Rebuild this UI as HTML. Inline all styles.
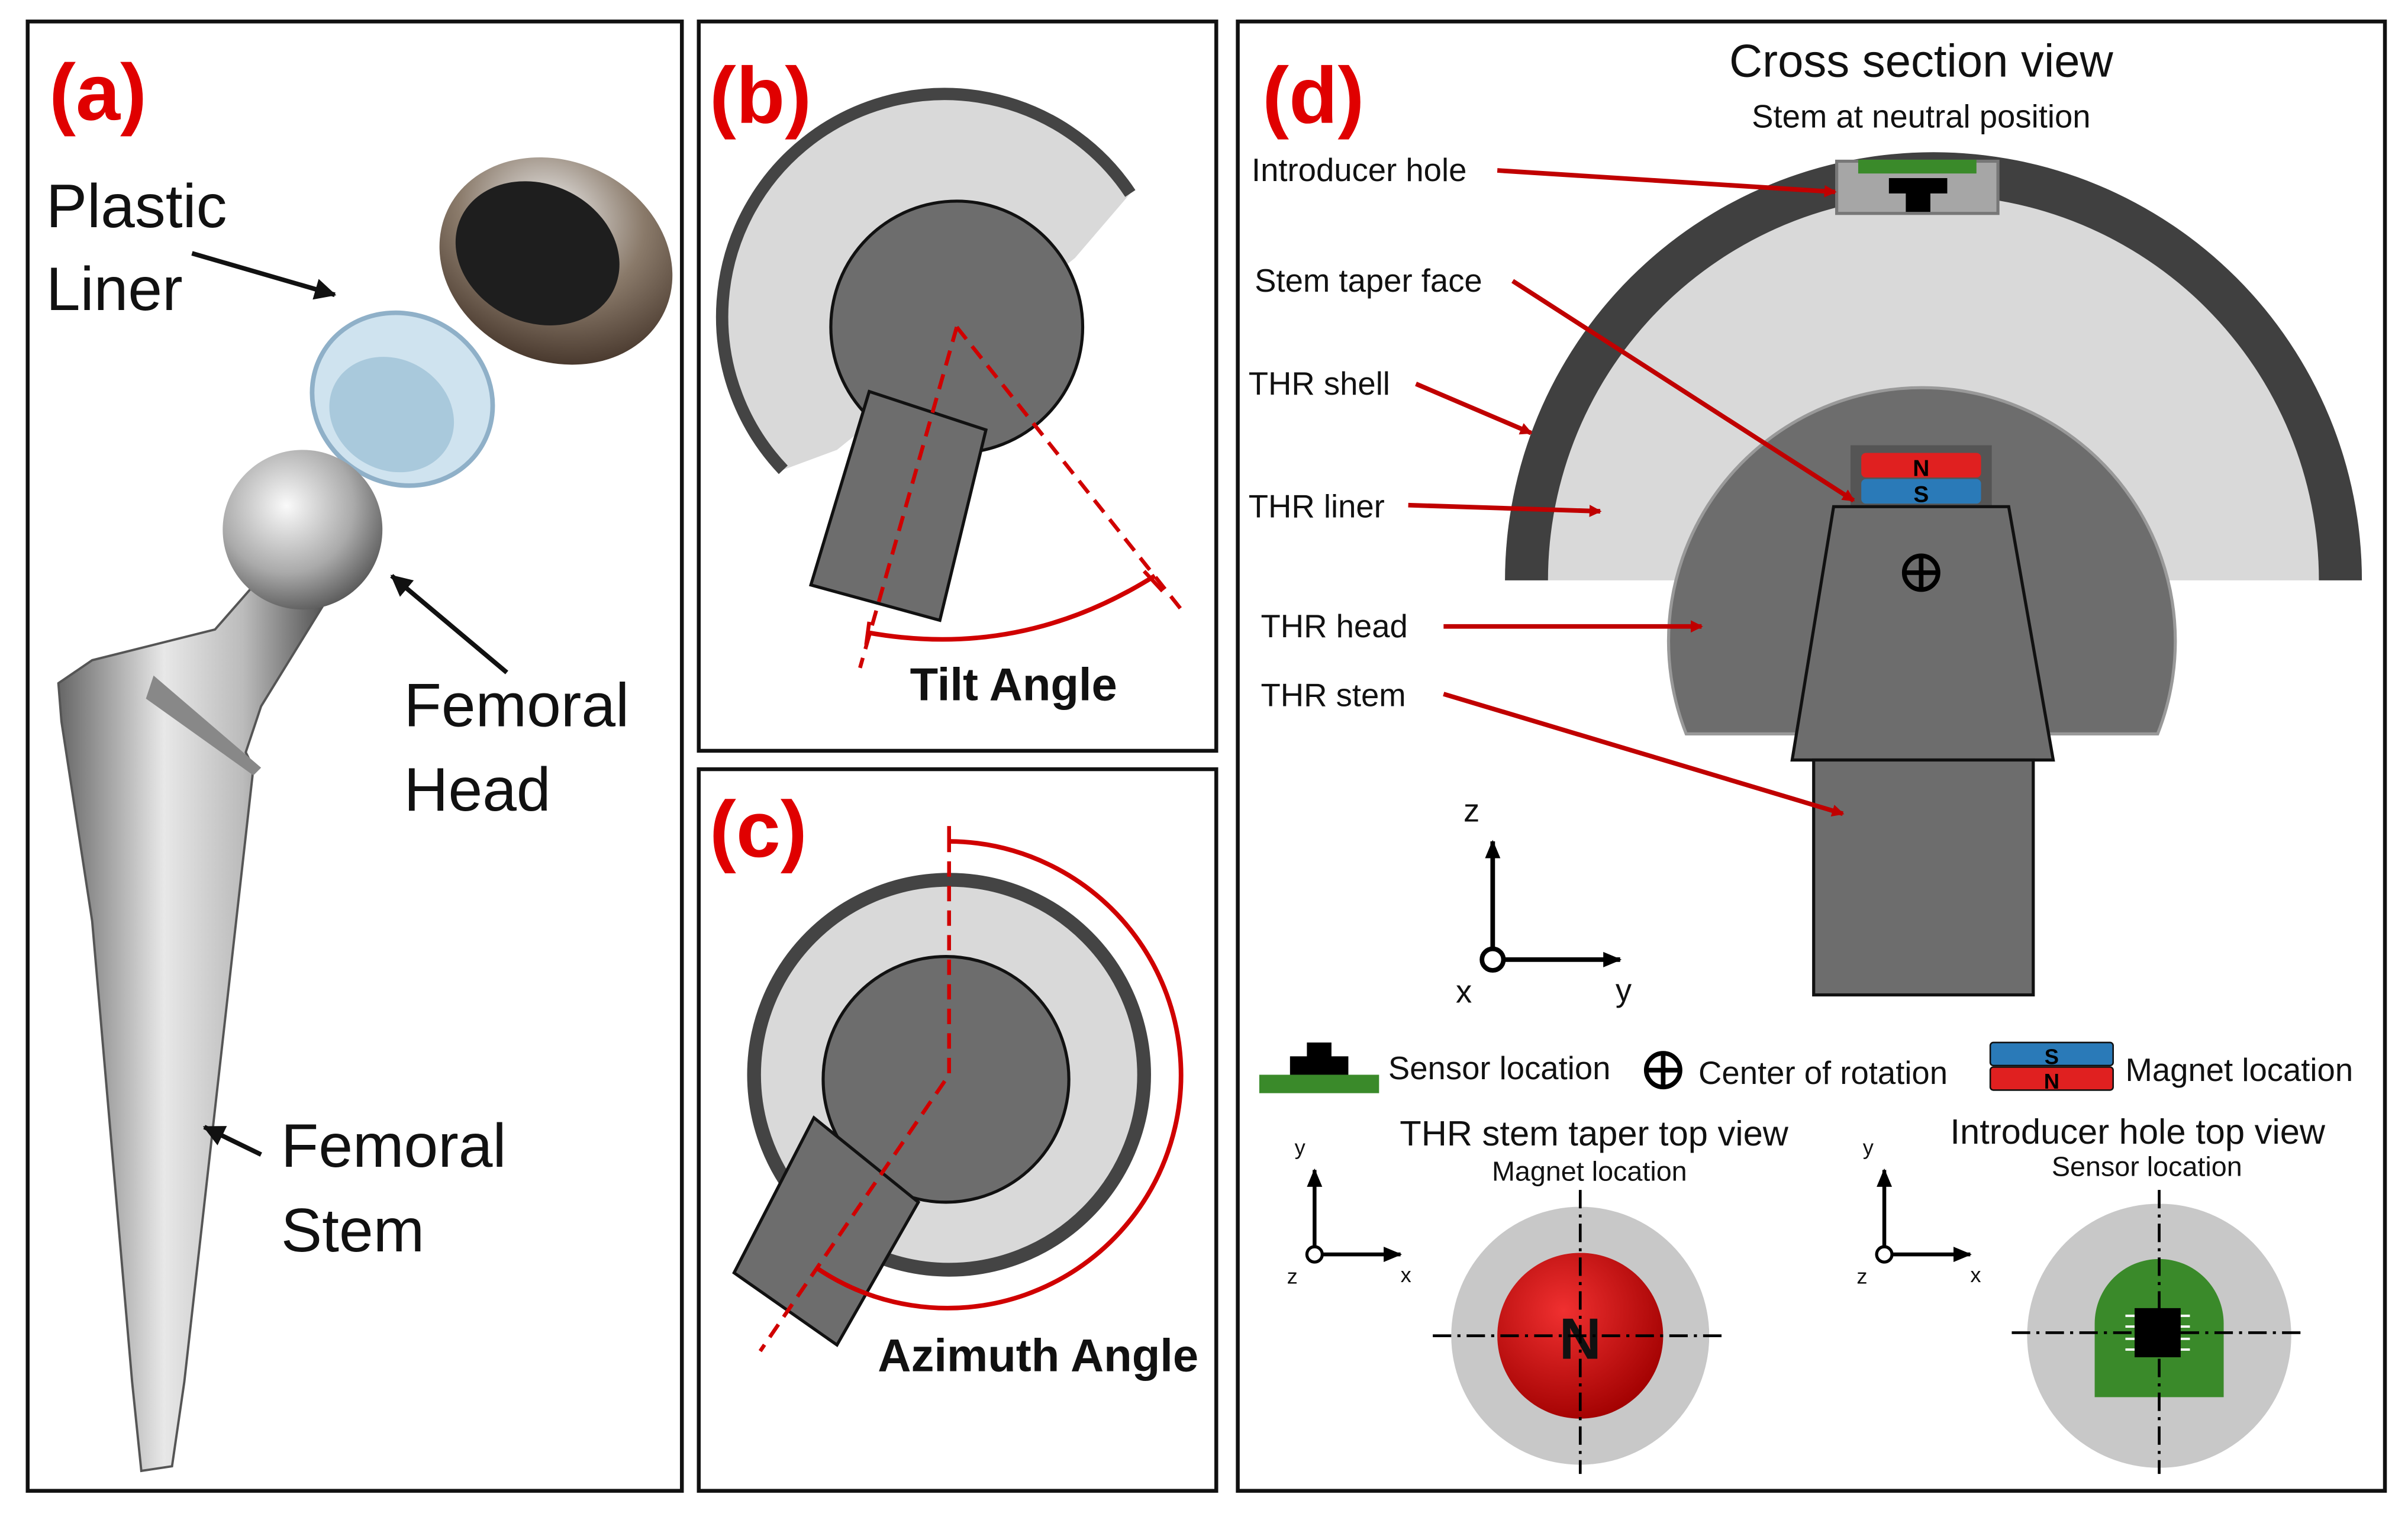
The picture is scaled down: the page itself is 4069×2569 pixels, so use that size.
<!DOCTYPE html>
<html><head><meta charset="utf-8"><style>
html,body{margin:0;padding:0;background:#fff;}
svg{display:block;}
text{font-family:"Liberation Sans",sans-serif;}
</style></head><body>
<svg width="4069" height="2569" viewBox="0 0 1568 990" xmlns="http://www.w3.org/2000/svg">
<defs>
<marker id="ar" markerWidth="8" markerHeight="8" refX="7" refY="4" orient="auto" markerUnits="userSpaceOnUse"><path d="M0,0 L8,4 L0,8 z" fill="#c00000"/></marker>
<marker id="ak" markerWidth="14" markerHeight="14" refX="13" refY="7" orient="auto" markerUnits="userSpaceOnUse"><path d="M0,0 L14,7 L0,14 z" fill="#111"/></marker>
<marker id="ab" markerWidth="12" markerHeight="12" refX="11" refY="6" orient="auto" markerUnits="userSpaceOnUse"><path d="M0,1 L12,6 L0,11 z" fill="#000"/></marker>
<linearGradient id="metal" x1="0" x2="1"><stop offset="0" stop-color="#666"/><stop offset="0.4" stop-color="#e8e8e8"/><stop offset="0.7" stop-color="#bbb"/><stop offset="1" stop-color="#555"/></linearGradient>
<radialGradient id="ball" cx="0.4" cy="0.35" r="0.7"><stop offset="0" stop-color="#fafafa"/><stop offset="0.6" stop-color="#aaa"/><stop offset="1" stop-color="#555"/></radialGradient>
<radialGradient id="cup" cx="0.4" cy="0.3" r="0.8"><stop offset="0" stop-color="#eee"/><stop offset="0.5" stop-color="#8a7a6a"/><stop offset="1" stop-color="#3a2a20"/></radialGradient>
<radialGradient id="mag" cx="0.4" cy="0.35" r="0.7"><stop offset="0" stop-color="#f03030"/><stop offset="1" stop-color="#a00000"/></radialGradient>
</defs>
<rect width="1568" height="990" fill="#fff"/>
<g fill="none" stroke="#111" stroke-width="2.5">
<rect x="18" y="14" width="426" height="957"/>
<rect x="455" y="14" width="337" height="475"/>
<rect x="455" y="501" width="337" height="470"/>
<rect x="806" y="14" width="747" height="957"/>
</g>
<!-- Panel a -->
<text x="32" y="78" font-size="52" font-weight="bold" fill="#e00000">(a)</text>
<ellipse cx="362" cy="170" rx="78" ry="65" transform="rotate(25 362 170)" fill="url(#cup)"/>
<ellipse cx="350" cy="165" rx="55" ry="45" transform="rotate(25 350 165)" fill="#1e1e1e"/>
<ellipse cx="262" cy="260" rx="60" ry="55" transform="rotate(30 262 260)" fill="#cfe3ef" stroke="#8fb0c8" stroke-width="3"/>
<ellipse cx="255" cy="270" rx="42" ry="36" transform="rotate(30 255 270)" fill="#a9c9dc"/>
<path d="M175,370 L210,395 L170,460 L160,490 L165,500 L120,900 L112,955 L92,958 L86,900 L60,600 L40,470 L38,445 L60,430 L140,410 Z" fill="url(#metal)" stroke="#555" stroke-width="1.5"/>
<path d="M100,440 L170,500 L165,505 L95,455 Z" fill="#888"/>
<circle cx="197" cy="345" r="52" fill="url(#ball)"/>
<g font-size="40" fill="#111">
<text x="30" y="148">Plastic</text><text x="30" y="202">Liner</text>
<text x="263" y="473">Femoral</text><text x="263" y="528">Head</text>
<text x="183" y="760">Femoral</text><text x="183" y="815">Stem</text>
</g>
<line x1="125" y1="165" x2="218" y2="192" stroke="#111" stroke-width="3" marker-end="url(#ak)"/>
<line x1="330" y1="438" x2="255" y2="375" stroke="#111" stroke-width="3" marker-end="url(#ak)"/>
<line x1="170" y1="752" x2="133" y2="734" stroke="#111" stroke-width="3" marker-end="url(#ak)"/>
<!-- Panel b -->
<text x="462" y="80" font-size="52" font-weight="bold" fill="#e00000">(b)</text>
<path d="M510,306 A145,145 0 1 1 736,126 L700,168 L545,293 Z" fill="#d9d9d9"/>
<path d="M510,306 A145,145 0 1 1 736,126" fill="none" stroke="#444" stroke-width="8"/>
<circle cx="623" cy="213" r="82" fill="#6d6d6d" stroke="#111" stroke-width="2"/>
<polygon points="566,255 642,280 612,404 528,381" fill="#6d6d6d" stroke="#111" stroke-width="2"/>
<g stroke="#d00000" stroke-width="2.5" fill="none">
<line x1="623" y1="213" x2="560" y2="435" stroke-dasharray="10,6"/>
<line x1="623" y1="213" x2="770" y2="398" stroke-dasharray="10,6"/>
<path d="M565,412 Q665,430 752,375" stroke-width="3"/>
<line x1="566" y1="405" x2="564" y2="420"/><line x1="745" y1="372" x2="757" y2="385"/>
</g>
<text x="660" y="456" font-size="30" font-weight="bold" text-anchor="middle" fill="#111">Tilt Angle</text>
<!-- Panel c -->
<text x="462" y="558" font-size="52" font-weight="bold" fill="#e00000">(c)</text>
<circle cx="618" cy="700" r="127" fill="#d9d9d9" stroke="#444" stroke-width="9"/>
<circle cx="616" cy="703" r="80" fill="#6d6d6d" stroke="#111" stroke-width="2"/>
<polygon points="530,728 598,783 545,876 478,829" fill="#6d6d6d" stroke="#111" stroke-width="2"/>
<g stroke="#d00000" stroke-width="2.5" fill="none">
<polyline points="618,545 618,700 495,880" stroke-dasharray="10,6"/>
<path d="M618,548 A152,152 0 1 1 532,826" stroke-width="3"/>
<line x1="618" y1="538" x2="618" y2="552"/>
</g>
<text x="676" y="893" font-size="30" font-weight="bold" text-anchor="middle" fill="#111">Azimuth Angle</text>
<!-- Panel d -->
<text x="822" y="80" font-size="52" font-weight="bold" fill="#e00000">(d)</text>
<text x="1251" y="50" font-size="30" text-anchor="middle" fill="#111">Cross section view</text>
<text x="1251" y="83" font-size="21" text-anchor="middle" fill="#111">Stem at neutral position</text>
<path d="M980,378 A279,279 0 0 1 1538,378 Z" fill="#d9d9d9"/>
<path d="M980,378 A279,279 0 0 1 1538,378 L1510,378 A251,251 0 0 0 1008,378 Z" fill="#404040"/>
<rect x="1196" y="105" width="105" height="34" fill="#a6a6a6" stroke="#777" stroke-width="2"/>
<rect x="1210" y="104" width="77" height="9" fill="#3a8a2a"/>
<rect x="1230" y="116" width="38" height="10" fill="#000"/><rect x="1241" y="124" width="16" height="14" fill="#000"/>
<path d="M1098,478 A165,165 0 1 1 1405,478 Z" fill="#6d6d6d" stroke="#999" stroke-width="2"/>
<rect x="1205" y="290" width="92" height="40" fill="#555"/>
<rect x="1212" y="295" width="78" height="16" rx="3" fill="#e02020"/>
<rect x="1212" y="312" width="78" height="16" rx="3" fill="#2a7ab8"/>
<text x="1251" y="310" font-size="15" font-weight="bold" text-anchor="middle">N</text>
<text x="1251" y="327" font-size="15" font-weight="bold" text-anchor="middle">S</text>
<polygon points="1194,330 1308,330 1337,495 1167,495" fill="#6d6d6d" stroke="#111" stroke-width="2"/>
<rect x="1181" y="495" width="143" height="153" fill="#6d6d6d" stroke="#111" stroke-width="2"/>
<circle cx="1251" cy="373" r="11" fill="none" stroke="#000" stroke-width="3"/>
<line x1="1240" y1="373" x2="1262" y2="373" stroke="#000" stroke-width="3"/><line x1="1251" y1="362" x2="1251" y2="384" stroke="#000" stroke-width="3"/>
<g font-size="21" fill="#111">
<text x="815" y="118">Introducer hole</text>
<text x="817" y="190">Stem taper face</text>
<text x="813" y="257">THR shell</text>
<text x="813" y="337">THR liner</text>
<text x="821" y="415">THR head</text>
<text x="821" y="460">THR stem</text>
</g>
<g stroke="#c00000" stroke-width="3" fill="none" marker-end="url(#ar)">
<line x1="975" y1="111" x2="1195" y2="125"/>
<line x1="985" y1="183" x2="1207" y2="326"/>
<line x1="922" y1="250" x2="997" y2="282"/>
<line x1="917" y1="329" x2="1042" y2="333"/>
<line x1="940" y1="408" x2="1108" y2="408"/>
<line x1="940" y1="452" x2="1200" y2="530"/>
</g>
<g stroke="#000" stroke-width="3">
<line x1="972" y1="618" x2="972" y2="548" marker-end="url(#ab)"/>
<line x1="979" y1="625" x2="1055" y2="625" marker-end="url(#ab)"/>
</g>
<circle cx="972" cy="625" r="7" fill="#fff" stroke="#000" stroke-width="3"/>
<g font-size="21" fill="#111"><text x="953" y="535">z</text><text x="948" y="653">x</text><text x="1052" y="652">y</text></g>
<rect x="820" y="700" width="78" height="12" fill="#3a8a2a"/>
<rect x="840" y="688" width="38" height="12" fill="#000"/><rect x="851" y="679" width="16" height="10" fill="#000"/>
<text x="904" y="703" font-size="21" fill="#111">Sensor location</text>
<circle cx="1083" cy="697" r="11" fill="none" stroke="#000" stroke-width="3"/>
<line x1="1072" y1="697" x2="1094" y2="697" stroke="#000" stroke-width="3"/><line x1="1083" y1="686" x2="1083" y2="708" stroke="#000" stroke-width="3"/>
<text x="1106" y="706" font-size="21" fill="#111">Center of rotation</text>
<rect x="1296" y="679" width="80" height="15" rx="2" fill="#2a7ab8" stroke="#111"/>
<rect x="1296" y="695" width="80" height="15" rx="2" fill="#e02020" stroke="#111"/>
<text x="1336" y="693" font-size="14" font-weight="bold" text-anchor="middle">S</text>
<text x="1336" y="709" font-size="14" font-weight="bold" text-anchor="middle">N</text>
<text x="1384" y="704" font-size="21" fill="#111">Magnet location</text>
<text x="1038" y="746" font-size="23" text-anchor="middle" fill="#111">THR stem taper top view</text>
<text x="1035" y="769" font-size="18" text-anchor="middle" fill="#111">Magnet location</text>
<text x="1392" y="745" font-size="23" text-anchor="middle" fill="#111">Introducer hole top view</text>
<text x="1398" y="766" font-size="18" text-anchor="middle" fill="#111">Sensor location</text>
<g stroke="#000" stroke-width="2.5">
<line x1="856" y1="812" x2="856" y2="762" marker-end="url(#ab)"/>
<line x1="861" y1="817" x2="912" y2="817" marker-end="url(#ab)"/>
<line x1="1227" y1="812" x2="1227" y2="762" marker-end="url(#ab)"/>
<line x1="1232" y1="817" x2="1283" y2="817" marker-end="url(#ab)"/>
</g>
<circle cx="856" cy="817" r="5" fill="#fff" stroke="#000" stroke-width="2"/>
<circle cx="1227" cy="817" r="5" fill="#fff" stroke="#000" stroke-width="2"/>
<g font-size="14" fill="#111">
<text x="843" y="752">y</text><text x="838" y="836">z</text><text x="912" y="835">x</text>
<text x="1213" y="752">y</text><text x="1209" y="836">z</text><text x="1283" y="835">x</text>
</g>
<circle cx="1029" cy="870" r="84" fill="#c8c8c8"/>
<circle cx="1029" cy="870" r="54" fill="url(#mag)"/>
<text x="1029" y="885" font-size="38" font-weight="bold" text-anchor="middle" fill="#111">N</text>
<circle cx="1406" cy="870" r="86" fill="#c8c8c8"/>
<path d="M1364,910 L1364,862 A42,42 0 0 1 1448,862 L1448,910 Z" fill="#3a8a2a"/>
<g stroke="#fff" stroke-width="1.5">
<line x1="1384" y1="857" x2="1426" y2="857"/><line x1="1384" y1="864" x2="1426" y2="864"/><line x1="1384" y1="872" x2="1426" y2="872"/><line x1="1384" y1="879" x2="1426" y2="879"/>
</g>
<rect x="1390" y="852" width="30" height="32" fill="#000"/>
<g stroke="#000" stroke-width="1.8" stroke-dasharray="12,4,2,4">
<line x1="933" y1="870" x2="1125" y2="870"/><line x1="1029" y1="775" x2="1029" y2="960"/>
<line x1="1310" y1="868" x2="1500" y2="868"/><line x1="1406" y1="775" x2="1406" y2="960"/>
</g>
</svg>
</body></html>
